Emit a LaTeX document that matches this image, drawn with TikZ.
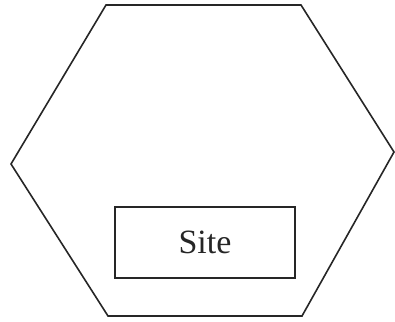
\documentclass[tikz,border=0pt]{standalone}
\usepackage{fontspec}
\setmainfont{Liberation Serif}
\tikzset{
  outline/.style={draw=black!85, line width=1.6pt, line join=miter},
  sitebox/.style={draw=black!85, line width=1.6pt, minimum width=180pt, minimum height=71pt, inner sep=0pt, font=\fontsize{34}{40}\selectfont, text=black!85}
}
\begin{document}
\begin{tikzpicture}[x=1pt,y=1pt]
\useasboundingbox (0,0) rectangle (395,321);
\coordinate (tl) at (106,316);
\coordinate (tr) at (301,316);
\coordinate (r) at (394,169);
\coordinate (br) at (302,5);
\coordinate (bl) at (108,5);
\coordinate (l) at (11,157);
\draw[outline] (tl) -- (tr) -- (r) -- (br) -- (bl) -- (l) -- cycle;
\node[sitebox] (site) at (205,78.5) {Site};
\end{tikzpicture}
\end{document}
